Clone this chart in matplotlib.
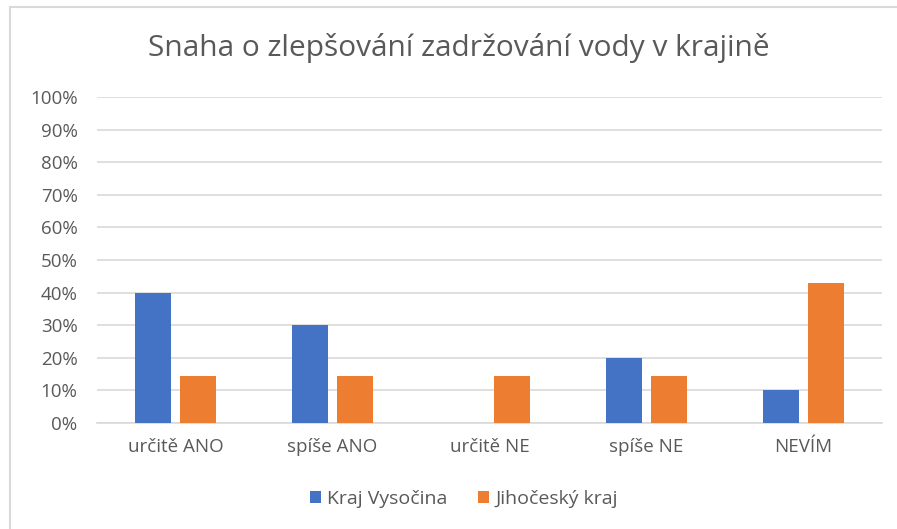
import matplotlib.pyplot as plt
import numpy as np
from matplotlib.lines import Line2D

kategorie = ['určitě ANO', 'spíše ANO', 'určitě NE', 'spíše NE', 'NEVÍM']
vysocina = [0.40, 0.30, 0.0, 0.20, 0.10]
jihocesky = [0.143, 0.143, 0.143, 0.143, 0.429]
nazvy_serii = ['Kraj Vysočina', 'Jihočeský kraj']
barvy = ['#4472C4', '#ED7D31']
seda = '#595959'

plt.rcParams['font.family'] = ['Open Sans', 'DejaVu Sans']

fig = plt.figure(figsize=(8.97, 5.29), dpi=100)
ax = fig.add_axes([97 / 897, 106 / 529, 785 / 897, 326 / 529])

# ramecek - je videt jen horni a leva hrana
fig.add_artist(Line2D([10 / 897, 1], [1 - 7 / 529, 1 - 7 / 529], transform=fig.transFigure,
                      color='#d9d9d9', linewidth=1.5))
fig.add_artist(Line2D([10 / 897, 10 / 897], [0, 1 - 7 / 529], transform=fig.transFigure,
                      color='#d9d9d9', linewidth=1.5))

x = np.arange(len(kategorie))
sirka = 0.225
mezera = 0.06
ax.bar(x - (sirka + mezera) / 2, vysocina, sirka, color=barvy[0], label=nazvy_serii[0], zorder=3)
ax.bar(x + (sirka + mezera) / 2, jihocesky, sirka, color=barvy[1], label=nazvy_serii[1], zorder=3)

ax.set_xlim(-0.5, len(kategorie) - 0.5)
ax.set_ylim(0, 1.0)
ax.set_yticks(np.arange(0, 1.01, 0.1))
ax.set_yticklabels([f'{int(round(v * 100))}%' for v in np.arange(0, 1.01, 0.1)])
ax.set_xticks(x)
ax.set_xticklabels(kategorie)
ax.tick_params(axis='both', length=0, colors=seda, labelsize=13.5)
ax.tick_params(axis='y', pad=14)
ax.tick_params(axis='x', pad=11)
ax.grid(axis='y', color='#d9d9d9', linewidth=1.2, zorder=0)
for s in ['top', 'right', 'left']:
    ax.spines[s].set_visible(False)
ax.spines['bottom'].set_color('#d9d9d9')
ax.spines['bottom'].set_linewidth(1.2)

fig.text(459 / 897, 1 - 48 / 529, 'Snaha o zlepšování zadržování vody v krajině',
         ha='center', va='center', fontsize=21.5, color=seda)

fig.legend(loc='center', bbox_to_anchor=(464 / 897, 1 - 499 / 529), ncol=2, frameon=False,
           fontsize=14, labelcolor=seda, handlelength=0.55, handleheight=0.55,
           handletextpad=0.3, columnspacing=1.6)

fig.savefig('out.png', dpi=100)
